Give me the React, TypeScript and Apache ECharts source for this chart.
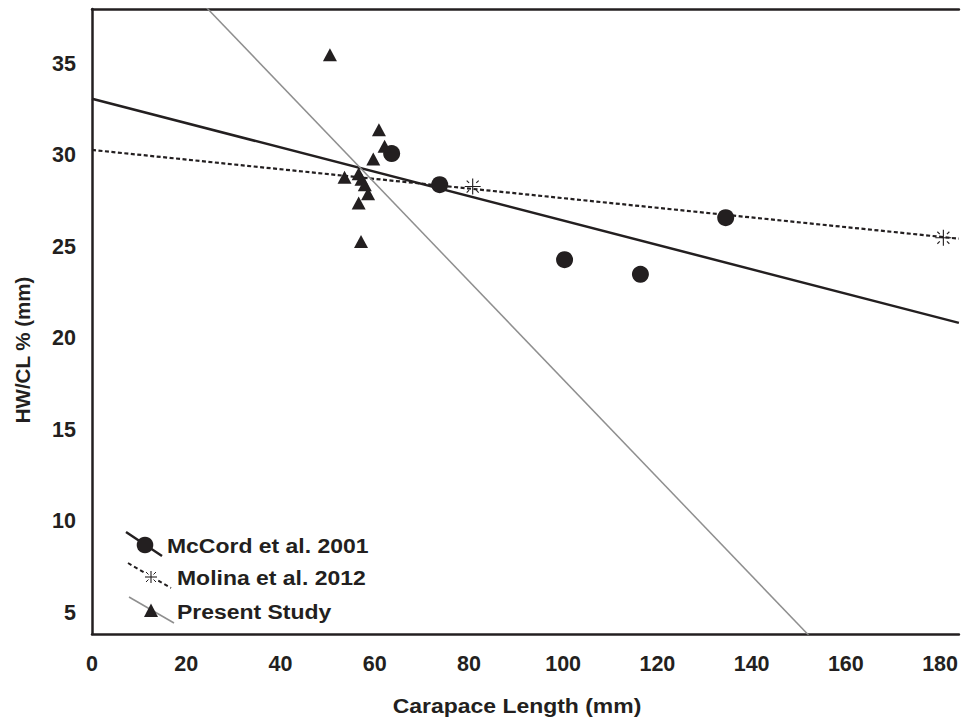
import React, { useEffect, useRef } from "react";
import * as echarts from "echarts";

// Axis ticks
const xTicks = [0, 20, 40, 60, 80, 100, 120, 140, 160, 180];
const yTicks = [5, 10, 15, 20, 25, 30, 35];

// McCord et al. 2001 data points [CL, HW/CL %]
const mccordPoints = [
  [63.6, 30.1],
  [73.8, 28.4],
  [100.3, 24.3],
  [116.4, 23.5],
  [134.5, 26.6],
];
// Molina et al. 2012 data points
const molinaPoints = [
  [80.8, 28.3],
  [180.7, 25.5],
];
// Present study data points
const presentPoints = [
  [50.5, 35.5],
  [60.9, 31.4],
  [62.1, 30.5],
  [59.7, 29.8],
  [53.6, 28.8],
  [56.6, 29.0],
  [57.2, 28.7],
  [57.9, 28.4],
  [58.6, 27.9],
  [56.6, 27.4],
  [57.1, 25.3],
];

// Regression lines (endpoints)
const mccordFit = [
  [0, 33.1],
  [184, 20.85],
];
const molinaFit = [
  [0, 30.3],
  [184, 25.45],
];
const presentFit = [
  [20, 39.23],
  [155, 3.01],
];

const INK = "#231f20";
const FONT = "Liberation Sans, Arial, sans-serif";
const ASTERISK =
  "path://M9.3,0H10.7V20H9.3Z M0,9.3H20V10.7H0Z M2,3L3,2L6,5L5,6Z M18,3L17,2L14,5L15,6Z M2,17L3,18L6,15L5,14Z M18,17L17,18L14,15L15,14Z";

function stretchedText(text: string, x: number, y: number, align: string) {
  return {
    type: "text",
    x,
    y,
    scaleX: 1.12,
    style: {
      text,
      fontSize: 20.5,
      fontWeight: "bold",
      fontFamily: FONT,
      fill: INK,
      align,
      verticalAlign: "middle",
    },
  };
}

export default function App() {
  const ref = useRef<HTMLDivElement>(null);
  useEffect(() => {
    document.body.style.margin = "0";
    const chart = echarts.init(ref.current!, null, { renderer: "svg" });
    const labelStyle = {
      fontSize: 21.5,
      fontWeight: "bold" as const,
      fontFamily: FONT,
      color: INK,
    };
    const ax = 151;
    const ay = 577;
    chart.setOption({
      animation: false,
      backgroundColor: "#ffffff",
      grid: { left: 92, right: 1, top: 9, bottom: 85, containLabel: false },
      xAxis: [
        {
          type: "value",
          min: 0,
          max: 184,
          axisLine: { show: true, onZero: false, lineStyle: { color: INK, width: 2.5 } },
          axisTick: { show: false },
          splitLine: { show: false },
          axisLabel: { ...labelStyle, margin: 19, customValues: xTicks },
        },
        {
          type: "value",
          position: "top",
          min: 0,
          max: 184,
          axisLine: { show: true, lineStyle: { color: INK, width: 2.5 } },
          axisTick: { show: false },
          splitLine: { show: false },
          axisLabel: { show: false },
        },
      ],
      yAxis: {
        type: "value",
        min: 3.85,
        max: 38,
        axisLine: { show: true, onZero: false, lineStyle: { color: INK, width: 2.5 } },
        axisTick: { show: false },
        splitLine: { show: false },
        axisLabel: { ...labelStyle, margin: 16, customValues: yTicks },
      },
      graphic: [
        {
          type: "text",
          x: 22,
          y: 350,
          rotation: Math.PI / 2,
          style: {
            text: "HW/CL % (mm)",
            fontSize: 20.5,
            fontWeight: "bold",
            fontFamily: FONT,
            fill: INK,
            align: "center",
            verticalAlign: "middle",
          },
        },
        stretchedText("Carapace Length (mm)", 517, 706, "center"),
        // legend
        {
          type: "line",
          shape: { x1: 126, y1: 532, x2: 162, y2: 556 },
          style: { stroke: INK, lineWidth: 2.5 },
        },
        { type: "circle", shape: { cx: 145, cy: 545, r: 8.3 }, style: { fill: INK } },
        stretchedText("McCord et al. 2001", 167, 546, "left"),
        {
          type: "line",
          shape: { x1: 128, y1: 563, x2: 171, y2: 588 },
          style: { stroke: INK, lineWidth: 2, lineDash: [4, 3] },
        },
        {
          type: "rect",
          shape: { x: ax - 7, y: ay - 7, width: 14, height: 14 },
          style: { fill: "#ffffff" },
        },
        {
          type: "line",
          shape: { x1: ax, y1: ay - 6, x2: ax, y2: ay + 6 },
          style: { stroke: INK, lineWidth: 1.1 },
        },
        {
          type: "line",
          shape: { x1: ax - 6, y1: ay, x2: ax + 6, y2: ay },
          style: { stroke: INK, lineWidth: 1.1 },
        },
        {
          type: "line",
          shape: { x1: ax - 5, y1: ay - 5, x2: ax - 2.5, y2: ay - 2.5 },
          style: { stroke: INK, lineWidth: 1 },
        },
        {
          type: "line",
          shape: { x1: ax + 5, y1: ay - 5, x2: ax + 2.5, y2: ay - 2.5 },
          style: { stroke: INK, lineWidth: 1 },
        },
        {
          type: "line",
          shape: { x1: ax - 5, y1: ay + 5, x2: ax - 2.5, y2: ay + 2.5 },
          style: { stroke: INK, lineWidth: 1 },
        },
        {
          type: "line",
          shape: { x1: ax + 5, y1: ay + 5, x2: ax + 2.5, y2: ay + 2.5 },
          style: { stroke: INK, lineWidth: 1 },
        },
        stretchedText("Molina et al. 2012", 177, 578, "left"),
        {
          type: "line",
          shape: { x1: 129, y1: 597, x2: 174, y2: 623 },
          style: { stroke: "#8f8f8f", lineWidth: 1.5 },
        },
        {
          type: "polygon",
          shape: { points: [[151, 603.5], [158, 617], [144, 617]] },
          style: { fill: INK },
        },
        stretchedText("Present Study", 177, 612, "left"),
      ],
      series: [
        {
          name: "McCord fit",
          type: "line",
          data: mccordFit,
          symbol: "none",
          lineStyle: { color: INK, width: 2.5 },
          silent: true,
          z: 2,
        },
        {
          name: "Molina fit",
          type: "line",
          data: molinaFit,
          symbol: "none",
          lineStyle: { color: INK, width: 2.2, type: [4, 2.5] },
          silent: true,
          z: 2,
        },
        {
          name: "Present fit",
          type: "line",
          data: presentFit,
          symbol: "none",
          lineStyle: { color: "#8f8f8f", width: 1.5 },
          silent: true,
          z: 2,
        },
        {
          name: "McCord et al. 2001",
          type: "scatter",
          data: mccordPoints,
          symbol: "circle",
          symbolSize: 17,
          itemStyle: { color: INK, opacity: 1 },
          z: 3,
        },
        {
          name: "Molina et al. 2012",
          type: "scatter",
          data: molinaPoints,
          symbol: ASTERISK,
          symbolSize: 16,
          itemStyle: { color: INK, opacity: 1 },
          z: 3,
        },
        {
          name: "Present Study",
          type: "scatter",
          data: presentPoints,
          symbol: "triangle",
          symbolSize: [14, 13],
          itemStyle: { color: INK, opacity: 1 },
          z: 3,
        },
      ],
    });
    return () => chart.dispose();
  }, []);
  return <div ref={ref} style={{ width: 961, height: 719 }} />;
}
